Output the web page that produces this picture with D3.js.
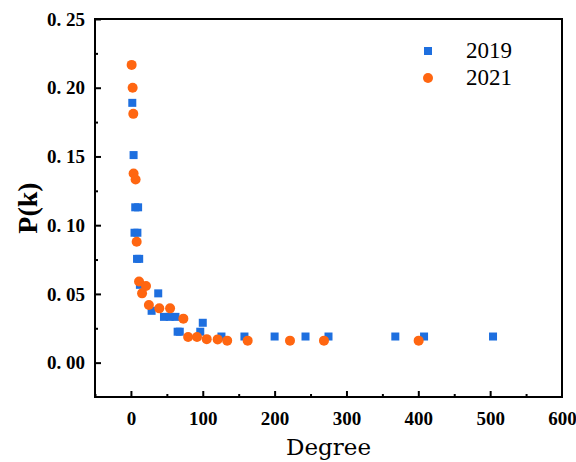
<!DOCTYPE html>
<html>
<head>
<meta charset="utf-8">
<script src="https://cdn.jsdelivr.net/npm/d3@7"></script>
<style>
body{margin:0;background:white;}
</style>
</head>
<body>
<svg></svg>
<script>
//degree values and P(k)
var deg2019=[1.9,3.7,6,10,5,9,8.5,11.5,12.5,28.8,38,46,54,62,65,68,96.5,100,126,158,200,243,275,368,408,504]
var p2019=[0.189,0.151,0.113,0.113,0.0945,0.0945,0.0755,0.0755,0.0566,0.0377,0.0504,0.0333,0.0333,0.0333,0.0225,0.0225,0.0225,0.029,0.019,0.019,0.019,0.019,0.019,0.019,0.019,0.019]
var deg2021=[1,2.4,3.3,3.7,6.5,8,11.3,21,15.5,25,39.5,54.5,73,79.6,92,105.5,120.7,134,162.5,221.4,268.7,400.5]
var p2021=[0.2166,0.2,0.181,0.1376,0.1332,0.088,0.059,0.0557,0.0504,0.0419,0.0395,0.0395,0.032,0.0187,0.0187,0.0171,0.0169,0.016,0.016,0.016,0.016,0.016]
var xTicks=[0,100,200,300,400,500,600]
var yTicks=[0,0.05,0.10,0.15,0.20,0.25]
var seriesNames=["2019","2021"]

var blue="#1e6fdf"
var orange="#ff6611"

var makeTranslateString = function(x,y)
{
    return "translate("+x+","+y+")";
}

var screen={width:576,height:462}
var margins={left:95,right:14,top:19,bottom:65}
var graph={
    width:screen.width-margins.left-margins.right,
    height:screen.height-margins.top-margins.bottom
}

var svg=d3.select("svg")
    .attr("width",screen.width)
    .attr("height",screen.height)

var xScale=d3.scaleLinear()
    .domain([-50,600])
    .range([0,graph.width])
var yScale=d3.scaleLinear()
    .domain([-0.025,0.25])
    .range([graph.height,0])

var target=svg.append("g")
    .attr("transform",makeTranslateString(margins.left,margins.top))

//Axes (ticks point inward)
var drawAxes=function()
{
    var xMinor=d3.axisBottom(xScale)
        .tickValues(d3.range(-50,600,50).filter(function(v){return v%100!=0}))
        .tickSize(-3).tickFormat("")
    var yMinor=d3.axisLeft(yScale)
        .tickValues([0.025,0.075,0.125,0.175,0.225])
        .tickSize(-3).tickFormat("")
    var xAxis=d3.axisBottom(xScale)
        .tickValues(xTicks).tickSize(-6).tickPadding(15)
        .tickFormat(d3.format("d"))
    var yAxis=d3.axisLeft(yScale)
        .tickValues(yTicks).tickSize(-6).tickPadding(10)
        .tickFormat(function(d){return d3.format(".2f")(d).replace(".",". ")})

    var axes=target.append("g")
    axes.append("g").attr("transform",makeTranslateString(0,graph.height)).call(xMinor)
    axes.append("g").attr("transform",makeTranslateString(0,graph.height)).call(xAxis)
    axes.append("g").call(yMinor)
    axes.append("g").call(yAxis)
    axes.selectAll(".domain").remove()
    axes.selectAll(".tick line").attr("stroke","black").attr("stroke-width",2)
    axes.selectAll(".tick text")
        .attr("fill","black")
        .attr("font-family","Liberation Serif")
        .attr("font-weight","bold")
        .attr("font-size",19)
        .attr("xml:space","preserve")
        .style("white-space","pre")
    axes.selectAll(".tick").filter(function(d){return d==600}).select("line").remove()

    target.append("rect")
        .attr("width",graph.width)
        .attr("height",graph.height)
        .attr("fill","none")
        .attr("stroke","black")
        .attr("stroke-width",2)
}

//Points
var drawPoints=function()
{
    target.append("g")
        .selectAll("rect")
        .data(d3.range(deg2019.length))
        .enter()
        .append("rect")
        .attr("x",function(i){return xScale(deg2019[i])-4})
        .attr("y",function(i){return yScale(p2019[i])-4})
        .attr("width",8)
        .attr("height",8)
        .attr("fill",blue)

    target.append("g")
        .selectAll("circle")
        .data(d3.range(deg2021.length))
        .enter()
        .append("circle")
        .attr("cx",function(i){return xScale(deg2021[i])})
        .attr("cy",function(i){return yScale(p2021[i])})
        .attr("r",5)
        .attr("fill",orange)
}

//Labels
var drawLabels=function()
{
    var labels=svg.append("g")
    labels.append("text")
        .text("Degree")
        .attr("text-anchor","middle")
        .attr("x",margins.left+graph.width/2)
        .attr("y",455)
        .attr("font-family","DejaVu Serif")
        .attr("font-size",23)

    labels.append("text")
        .text("P(k)")
        .attr("text-anchor","middle")
        .attr("transform","translate(37,208) rotate(-90)")
        .attr("font-family","Liberation Serif")
        .attr("font-weight","bold")
        .attr("font-size",28)
}

//Legend
var drawLegend=function()
{
    var legend=svg.append("g")
        .attr("transform",makeTranslateString(428,51))
    var entries=legend.selectAll("g")
        .data(seriesNames)
        .enter()
        .append("g")
        .attr("transform",function(d,i){return makeTranslateString(0,i*27)})
    entries.filter(function(d,i){return i==0})
        .append("rect")
        .attr("x",-4).attr("y",-4)
        .attr("width",8).attr("height",8)
        .attr("fill",blue)
    entries.filter(function(d,i){return i==1})
        .append("circle")
        .attr("r",5)
        .attr("fill",orange)
    entries.append("text")
        .text(function(d){return d})
        .attr("x",38)
        .attr("y",7)
        .attr("font-family","Liberation Serif")
        .attr("font-size",23)
}

drawAxes()
drawPoints()
drawLabels()
drawLegend()
</script>
</body>
</html>
